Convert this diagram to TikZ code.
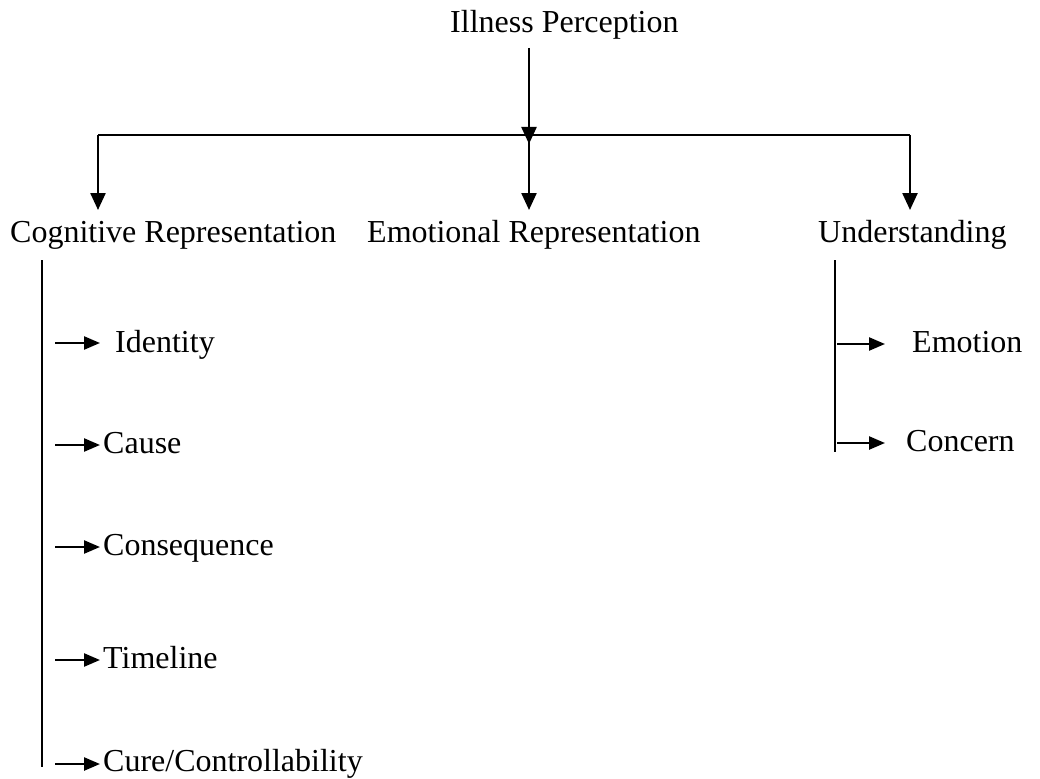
\documentclass[tikz,border=0pt]{standalone}
\usepackage{fontspec}
\setmainfont{Liberation Serif}
\usetikzlibrary{arrows.meta}
\begin{document}
\begin{tikzpicture}[x=1pt,y=-1pt,
  lbl/.style={anchor=base west,inner sep=0pt,font=\fontsize{32}{38}\selectfont},
  arr/.style={line width=2.4pt,-{Triangle[length=17pt,width=15pt]}},
  sarr/.style={line width=2.4pt,-{Triangle[length=16pt,width=13pt]}},
  spine/.style={line width=1.8pt},
  bar/.style={line width=2.4pt}]
\useasboundingbox[fill=white] (0,0) rectangle (1040,778);
% texts
\node[lbl] (ip) at (450,33) {Illness Perception};
\node[lbl] (cog) at (10,242) {Cognitive Representation};
\node[lbl] (emo) at (367,242) {Emotional Representation};
\node[lbl] (und) at (818,242) {Understanding};
\node[lbl] (id) at (115,352) {Identity};
\node[lbl] (ca) at (103,453) {Cause};
\node[lbl] (co) at (103,555) {Consequence};
\node[lbl] (ti) at (103,668) {Timeline};
\node[lbl] (cu) at (103,771) {Cure/Controllability};
\node[lbl] (em) at (912,352) {Emotion};
\node[lbl] (cn) at (906,451) {Concern};
% top arrow and branch bar
\coordinate (t0) at (529,48);
\coordinate (j0) at (529,135);
\coordinate (jl) at (98,135);
\coordinate (jr) at (910,135);
\draw[arr] (t0) -- ([yshift=-9pt]j0);
\draw[bar] (jl) -- (jr);
\draw[arr] (jl) -- (98,210);
\draw[arr] (j0) -- (529,210);
\draw[arr] (jr) -- (910,210);
% left spine
\coordinate (ls0) at (42,260);
\coordinate (ls1) at (42,767);
\draw[spine] (ls0) -- (ls1);
\coordinate (a1) at (55,343);
\coordinate (a2) at (55,445);
\coordinate (a3) at (55,547);
\coordinate (a4) at (55,660);
\coordinate (a5) at (55,764);
\draw[sarr] (a1) -- ([xshift=-15pt]a1 -| id.west);
\draw[sarr] (a2) -- ([xshift=-3pt]a2 -| ca.west);
\draw[sarr] (a3) -- ([xshift=-3pt]a3 -| co.west);
\draw[sarr] (a4) -- ([xshift=-3pt]a4 -| ti.west);
\draw[sarr] (a5) -- ([xshift=-3pt]a5 -| cu.west);
% right spine
\coordinate (rs0) at (835,260);
\coordinate (rs1) at (835,452);
\draw[spine] (rs0) -- (rs1);
\coordinate (b1) at (837,344);
\coordinate (b2) at (837,443);
\draw[sarr] (b1) -- ([xshift=-27pt]b1 -| em.west);
\draw[sarr] (b2) -- ([xshift=-21pt]b2 -| cn.west);
\end{tikzpicture}
\end{document}
